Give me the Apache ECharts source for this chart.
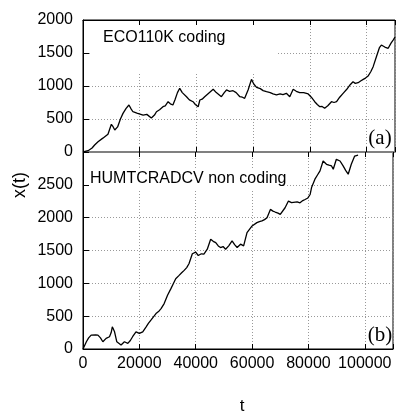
<!DOCTYPE html>
<html>
<head>
<meta charset="utf-8">
<script src="https://cdn.jsdelivr.net/npm/echarts@6/dist/echarts.min.js"></script>
<style>html,body{margin:0;padding:0;background:#fff}#c{width:396px;height:413px}</style>
</head>
<body>
<div id="c"></div>
<script>
// Panel (a): ECO110K coding
const tA = [0,1800,3200,4100,5300,5900,7000,7650,8800,9400,10000,10600,11200,12200,13200,14100,15200,16200,17000,17600,19000,21200,22500,24100,25200,25900,27000,28200,29000,30000,30800,31700,32500,33300,34100,35000,35600,36500,37500,38800,39600,40600,41200,42000,42900,44000,45900,47000,48800,49800,50600,51700,52900,54000,55300,56200,57000,58200,59400,60200,61200,62500,63500,64700,66000,67000,68200,69500,70500,71700,72900,74100,75200,76400,77800,79400,80500,81700,82600,83500,84300,85200,86300,87600,88500,89400,90500,91700,93000,94200,95200,96000,97000,98000,98800,99600,100500,101500,102300,103500,104500,105200,106400,107600,108600,109400,110000];
const vA = [0,20,60,106,156,130,210,232,270,283,420,383,333,380,500,585,660,712,650,610,590,560,570,515,560,610,640,686,700,762,730,712,800,900,965,900,870,838,790,762,720,686,788,800,838,880,950,900,838,900,940,920,929,900,838,830,813,940,1100,1030,980,960,930,914,900,880,864,880,870,889,838,950,920,899,900,879,830,762,720,686,690,662,700,762,750,762,830,889,950,1020,1065,1040,1050,1080,1100,1120,1150,1220,1293,1450,1580,1621,1590,1571,1650,1700,1740];
// Panel (b): HUMTCRADCV non coding
const tB = [0,1200,2000,2900,3500,4500,5300,6200,7050,8200,9400,10000,10400,11200,12000,13500,14700,15900,16800,17600,18800,20000,21200,22400,23200,24100,25000,25900,26800,27700,28800,30000,31200,32000,32900,34100,35000,35900,36800,37600,38800,40000,40900,42000,42900,44100,45300,46200,47100,48000,48800,49700,50600,51700,52900,53800,54700,55900,57000,58200,60000,61700,62600,63500,64400,65300,66500,67400,68200,69200,70000,71700,72900,74000,74700,76000,77000,78000,78800,79800,80600,81100,82300,83200,84100,85200,86400,87300,88200,88800,89900,91200,92300,93200,94100,95200,96400,97600];
const vB = [0,110,170,212,237,215,212,170,110,162,187,250,338,262,110,60,110,86,130,187,262,237,262,338,390,439,490,540,570,616,692,818,919,990,1070,1121,1160,1197,1240,1298,1450,1474,1424,1450,1444,1520,1671,1640,1621,1570,1545,1560,1520,1571,1647,1590,1545,1596,1571,1773,1874,1924,1940,1950,1970,2000,2126,2100,2086,2070,2050,2151,2253,2230,2227,2240,2227,2260,2277,2300,2353,2459,2586,2650,2712,2863,2813,2800,2788,2737,2889,2863,2788,2720,2662,2813,2939,2954];
const xTicks = [0,20000,40000,60000,80000,100000];
const yTicksA = [0,500,1000,1500,2000];
const yTicksB = [0,500,1000,1500,2000,2500];
const labelA = 'ECO110K coding';
const labelB = 'HUMTCRADCV non coding';

const FONT = 'Liberation Sans';
const grid = '#888';
const split = {show:true, lineStyle:{color:'#999', width:1, type:[1,2]}};
function xAx(gi, pos, showLabel, lineColor, lineWidth, showSplit){
  return {type:'value', gridIndex:gi, position:pos, min:0, max:110000, interval:20000,
    axisLine:{show:true, onZero:false, lineStyle:{color:lineColor, width:lineWidth}},
    axisTick:{show:true, inside:true, length:5, lineStyle:{color:'#000'}},
    axisLabel:{show:showLabel, color:'#000', fontFamily:FONT, fontSize:16, margin:7,
      formatter:v => xTicks.indexOf(v) >= 0 ? String(v) : ''},
    splitLine: showSplit ? split : {show:false}};
}
function yAx(gi, max, ticks){
  return {type:'value', gridIndex:gi, min:0, max:max, interval:500,
    axisLine:{show:true, onZero:false, lineStyle:{color:'#000', width:1}},
    axisTick:{show:true, inside:true, length:6, lineStyle:{color:'#000'}},
    axisLabel:{color:'#000', fontFamily:FONT, fontSize:16, margin:10,
      formatter:v => ticks.indexOf(v) >= 0 ? String(v) : ''},
    splitLine: split};
}
const chart = echarts.init(document.getElementById('c'), null, {renderer:'canvas'});
chart.setOption({
  animation:false,
  backgroundColor:'#fff',
  grid:[
    {left:83, right:1, top:20, height:132, show:true, borderColor:'#000', borderWidth:1},
    {left:83, right:1, top:152, height:197, show:true, borderColor:'#000', borderWidth:1}
  ],
  xAxis:[
    xAx(0,'bottom',false,'#808080',2,true),
    xAx(0,'top',false,'#000',1,false),
    xAx(1,'bottom',true,'#000',1,true),
    xAx(1,'top',false,'#808080',2,false)
  ],
  yAxis:[ yAx(0,2000,yTicksA), yAx(1,3000,yTicksB) ],
  series:[
    {type:'line', xAxisIndex:0, yAxisIndex:0, data:tA.map((t,i)=>[t,vA[i]]), showSymbol:false, z:5,
     lineStyle:{color:'#000', width:1.3}},
    {type:'line', xAxisIndex:2, yAxisIndex:1, data:tB.map((t,i)=>[t,vB[i]]), showSymbol:false, z:5,
     lineStyle:{color:'#000', width:1.3}}
  ],
  graphic:[
    {type:'rect', z:1, shape:{x:90, y:26, width:188, height:46}, style:{fill:'#fff'}},
    {type:'text', z:6, x:103, y:38, style:{text:labelA, font:'16px "Liberation Sans"', fill:'#000', align:'left', verticalAlign:'middle'}},
    {type:'rect', z:1, shape:{x:89, y:169, width:197, height:20}, style:{fill:'#fff'}},
    {type:'text', z:6, x:90, y:179, style:{text:labelB, font:'16px "Liberation Sans"', fill:'#000', align:'left', verticalAlign:'middle'}},
    {type:'text', z:6, x:380, y:138, style:{text:'(a)', font:'21px "Liberation Serif"', fill:'#000', align:'center', verticalAlign:'middle'}},
    {type:'text', z:6, x:380, y:335, style:{text:'(b)', font:'21px "Liberation Serif"', fill:'#000', align:'center', verticalAlign:'middle'}},
    {type:'text', z:6, x:20, y:185, rotation:Math.PI/2, style:{text:'x(t)', font:'18px "Liberation Sans"', fill:'#000', align:'center', verticalAlign:'middle'}},
    {type:'text', z:6, x:242, y:406, style:{text:'t', font:'17px "Liberation Sans"', fill:'#000', align:'center', verticalAlign:'middle'}}
  ]
});
</script>
</body>
</html>
